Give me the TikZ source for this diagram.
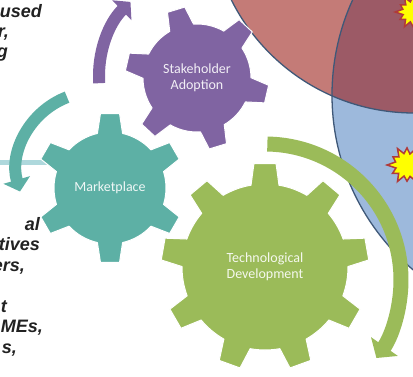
\documentclass[tikz,border=0pt]{standalone}
\usepackage{fontspec}
\usetikzlibrary{arrows.meta}
\newfontfamily\labelfont{Carlito}
\newfontfamily\sidefont{Liberation Sans}
\definecolor{gteal}{HTML}{5DB0A5}
\definecolor{gpurple}{HTML}{8064A2}
\definecolor{ggreen}{HTML}{9BBB59}
\definecolor{credonly}{HTML}{C47B77}
\definecolor{coverlap}{HTML}{9C5A66}
\definecolor{cblue}{HTML}{9DB9DC}
\definecolor{cline}{HTML}{3F5878}
\definecolor{hline}{HTML}{AED8DC}
\definecolor{starfill}{HTML}{FFFF00}
\definecolor{starline}{HTML}{B03A3A}
\definecolor{lefttext}{HTML}{222222}
\tikzset{
  gearlabel/.style={font=\labelfont\fontsize{14}{16.5}\selectfont, align=center, inner sep=0pt},
  sidetext/.style={font=\sidefont\bfseries\itshape\fontsize{18}{20}\selectfont, text=lefttext, inner sep=0pt, anchor=base east},
  gearshape/.style={fill=#1, draw=white, line width=1pt, line join=round},
  bandarrow/.style={draw=#1, line width=12pt, -{Triangle[length=12pt,width=27pt]}},
  ringline/.style={draw=cline, line width=1.3pt},
  burst/.style={fill=starfill, draw=starline, line width=1.5pt, line join=miter},
}
\newcommand{\mygear}[8]{%
  \path[#8, shift={(#1)}] ({#3-#6}:#4)
    \foreach \k in {1,...,#2}{
      -- ({#3+(\k-1)*360/#2-#7}:#5)
      -- ({#3+(\k-1)*360/#2+#7}:#5)
      -- ({#3+(\k-1)*360/#2+#6}:#4)
      arc[start angle={#3+(\k-1)*360/#2+#6}, end angle={#3+\k*360/#2-#6}, radius=#4]
    } -- cycle;
}
\newcommand{\burstshape}[2]{%
  \path[burst, shift={(#1)}, scale=#2] (0:1) -- (15:0.6) -- (30:0.88) -- (45:0.58) -- (60:1.05)
    -- (75:0.62) -- (90:0.85) -- (105:0.6) -- (120:1) -- (135:0.62) -- (150:0.88)
    -- (165:0.6) -- (180:1.05) -- (195:0.62) -- (210:0.85) -- (225:0.6) -- (240:1)
    -- (255:0.62) -- (270:0.9) -- (285:0.6) -- (300:1.05) -- (315:0.62) -- (330:0.85)
    -- (345:0.6) -- cycle;
}
\begin{document}
\begin{tikzpicture}[x=1pt,y=-1pt]
\useasboundingbox (0,0) rectangle (413,376);
\fill[white] (0,0) rectangle (413,376);
\clip (0,0) rectangle (413,376);
% centres
\coordinate (rc) at (414,-91);
\coordinate (bc) at (561,95);
\coordinate (gS) at (197,78);
\coordinate (gM) at (110,188);
\coordinate (gT) at (265,267);
\coordinate (aS) at (202,76);
\coordinate (aM) at (95,170);
\coordinate (aT) at (265,280);
\coordinate (h1) at (-2,162.5);
\coordinate (h2) at (60,162.5);
% circles
\fill[credonly] (rc) circle[radius=204];
\fill[cblue] (bc) circle[radius=229];
\begin{scope}
  \clip (rc) circle[radius=204];
  \fill[coverlap] (bc) circle[radius=229];
\end{scope}
\draw[ringline] (rc) circle[radius=204];
\draw[ringline] (bc) circle[radius=229];
% bursts
\burstshape{413,12}{17}
\burstshape{407,165}{19}
% light line
\draw[hline, line width=4.5pt] (h1) -- (h2);
% gears
\mygear{gS}{6}{13}{54}{72}{13.3}{7.2}{gearshape=gpurple}
\mygear{gM}{6}{30}{56}{75}{13}{7.3}{gearshape=gteal}
\mygear{gT}{9}{-10}{83}{104}{9.7}{6.1}{gearshape=ggreen}
% arrows
\draw[bandarrow=gpurple] (aS) ++(-184:103) arc[start angle=-184, end angle=-134, radius=103];
\draw[bandarrow=gteal] (aM) ++(-111:78) arc[start angle=-111, end angle=-196, radius=78];
\draw[draw=ggreen, line width=15pt, -{Triangle[length=14pt,width=32pt]}] (aT) ++(-89:136) arc[start angle=-89, end angle=35, radius=136];
% labels
\node[gearlabel, text=white!90!gpurple] (stk) at (gS) {Stakeholder\\Adoption};
\node[gearlabel, text=white!90!gteal] (mkt) at (gM) {Marketplace};
\node[gearlabel, text=white!90!ggreen] (tech) at (gT) {Technological\\Development};
% side texts
\node[sidetext] (t1) at (42,17) {used};
\node[sidetext] (t2) at (9,37) {r,};
\node[sidetext] (t3) at (8,57) {g};
\node[sidetext] (b1) at (40,230) {al};
\node[sidetext] (b2) at (40,250.5) {tives};
\node[sidetext] (b3) at (25,271) {ers,};
\node[sidetext] (b4) at (7,312) {t};
\node[sidetext] (b5) at (43,332.5) {MEs,};
\node[sidetext] (b6) at (17,353) {s,};
\end{tikzpicture}
\end{document}
